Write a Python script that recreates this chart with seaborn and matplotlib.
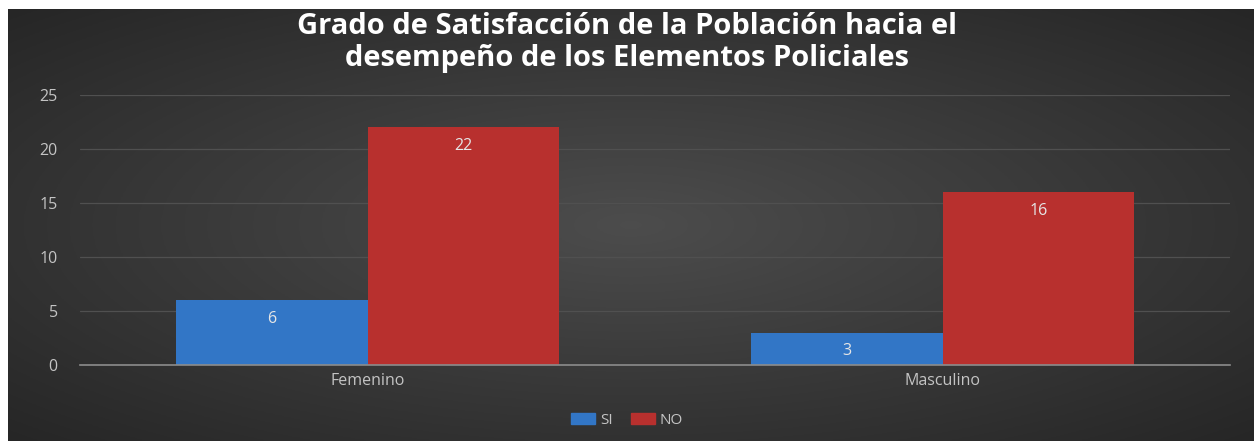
import numpy as np
import pandas as pd
import seaborn as sns
import matplotlib.pyplot as plt
from matplotlib.patches import Patch

# data
categorias = ['Femenino', 'Masculino']
si_vals = [6, 3]
no_vals = [22, 16]
series = ['SI', 'NO']

df = pd.DataFrame({
    'Sexo': categorias * 2,
    'Respuesta': ['SI'] * 2 + ['NO'] * 2,
    'Cantidad': si_vals + no_vals,
})

sns.set_style('dark')
plt.rcParams['font.family'] = ['Open Sans', 'DejaVu Sans']

fig = plt.figure(figsize=(12.54, 4.41), dpi=100)
fig.patch.set_facecolor('white')

# dark radial background
bg = fig.add_axes([8 / 1254, 0, 1 - 8 / 1254, 1 - 9 / 441])
yy, xx = np.mgrid[-1:1:200j, -1:1:400j]
r = np.clip(np.sqrt(xx ** 2 + yy ** 2) / 1.41, 0, 1)
g = 0.30 - 0.15 * r
bg.imshow(np.dstack([g, g, g]), aspect='auto', extent=[0, 1, 0, 1])
bg.set_axis_off()

ax = fig.add_axes([80 / 1254, 1 - 365 / 441, 1150 / 1254, 270 / 441])
ax.set_facecolor('none')
colores = {'SI': '#3276c6', 'NO': '#b8302e'}
sns.barplot(data=df, x='Sexo', y='Cantidad', hue='Respuesta', hue_order=series,
            palette=colores, width=0.667, saturation=1, ax=ax, legend=False,
            edgecolor='none')

ax.set_ylim(0, 25)
ax.set_xlim(-0.5, 1.5)
ax.set_yticks(range(0, 26, 5))
ax.grid(axis='y', color='#505050', linewidth=0.9)
ax.set_axisbelow(True)
for s in ['top', 'right', 'left']:
    ax.spines[s].set_visible(False)
ax.spines['bottom'].set_color('#8c8c8c')
ax.spines['bottom'].set_linewidth(1.2)
ax.tick_params(axis='both', length=0, colors='#c4c4c4', labelsize=11.5)
ax.tick_params(axis='y', pad=16)
ax.tick_params(axis='x', pad=6)
ax.set_xlabel('')
ax.set_ylabel('')

for cont in ax.containers:
    ax.bar_label(cont, padding=-19, color='#e6e6e6', fontsize=11.5)

fig.text(0.5, 1 - 12 / 441, 'Grado de Satisfacción de la Población hacia el\ndesempeño de los Elementos Policiales',
         ha='center', va='top', color='white', fontsize=21, fontweight='bold',
         linespacing=1.15)

handles = [Patch(color=colores[s], label=s) for s in series]
fig.legend(handles=handles, loc='center', bbox_to_anchor=(0.5, 1 - 420 / 441),
           ncol=2, frameon=False, fontsize=11, labelcolor='#c4c4c4',
           handlelength=1.6, handleheight=0.7, handletextpad=0.3, columnspacing=1.2)

fig.savefig('out.png', dpi=100, facecolor=fig.get_facecolor())
